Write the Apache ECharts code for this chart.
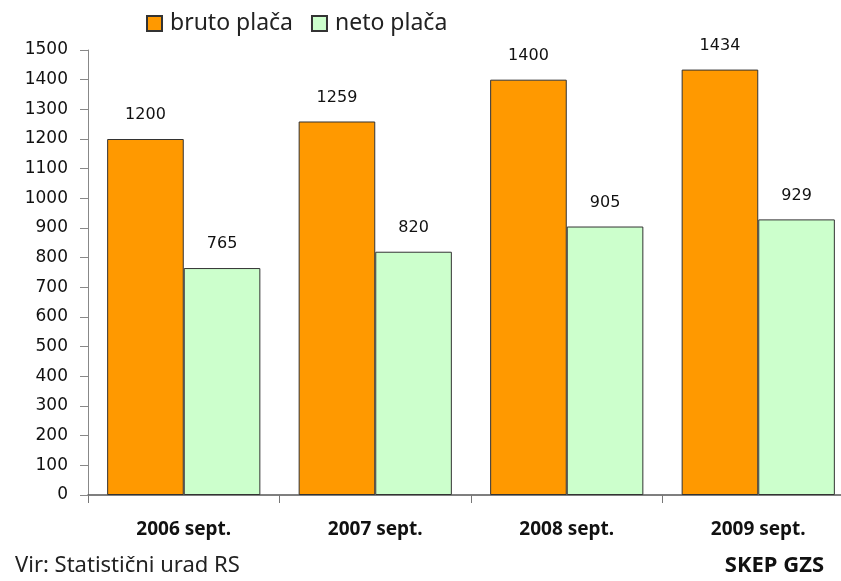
<!DOCTYPE html>
<html>
<head>
<meta charset="utf-8">
<script src="https://cdn.jsdelivr.net/npm/echarts@6/dist/echarts.min.js"></script>
<style>
  html, body { margin: 0; padding: 0; background: #fff; }
  #chart { width: 841px; height: 581px; }
</style>
</head>
<body>
<div id="chart"></div>
<script>
const categories = ['2006 sept.', '2007 sept.', '2008 sept.', '2009 sept.']
const bruto = [1200, 1259, 1400, 1434]
const neto = [765, 820, 905, 929]
const seriesNames = ['bruto plača', 'neto plača']
const sourceText = 'Vir: Statistični urad RS'
const brandText = 'SKEP GZS'

const font = '"Noto Sans", "DejaVu Sans", sans-serif'
const numFont = '"DejaVu Sans", sans-serif'
const chart = echarts.init(document.getElementById('chart'))

chart.setOption({
  animation: false,
  textStyle: { fontFamily: font },
  grid: { left: 88, width: 766, top: 50, bottom: 86, outerBoundsMode: 'none' },
  legend: {
    top: 7,
    left: 141,
    itemWidth: 15,
    itemHeight: 15,
    itemGap: 18,
    icon: 'rect',
    textStyle: { fontSize: 23, color: '#222', fontFamily: font, padding: [0, 0, 0, 3] },
    data: seriesNames
  },
  xAxis: {
    type: 'category',
    data: categories,
    axisLine: { lineStyle: { color: '#555', width: 1.5 } },
    axisTick: { show: true, length: 8, lineStyle: { color: '#777' } },
    axisLabel: { color: '#111', fontSize: 19, fontWeight: 'bold', margin: 25 }
  },
  yAxis: {
    type: 'value',
    min: 0,
    max: 1500,
    interval: 100,
    axisLine: { show: true, lineStyle: { color: '#888' } },
    axisTick: { show: true, length: 8, lineStyle: { color: '#888' } },
    axisLabel: { color: '#111', fontSize: 17, fontFamily: numFont, margin: 20, formatter: (v) => String(v) },
    splitLine: { show: false }
  },
  series: [
    {
      name: seriesNames[0],
      type: 'bar',
      data: bruto,
      barGap: '0%',
      barCategoryGap: '20%',
      itemStyle: { color: '#FF9900', borderColor: '#333', borderWidth: 1 },
      label: { show: true, position: 'top', distance: 16, color: '#111', fontSize: 16, fontFamily: numFont }
    },
    {
      name: seriesNames[1],
      type: 'bar',
      data: neto,
      itemStyle: { color: '#CCFFCC', borderColor: '#333', borderWidth: 1 },
      label: { show: true, position: 'top', distance: 16, color: '#111', fontSize: 16, fontFamily: numFont }
    }
  ],
  graphic: [
    {
      type: 'text',
      left: 15,
      top: 555,
      style: { text: sourceText, fontSize: 22, fill: '#222', fontFamily: font }
    },
    {
      type: 'text',
      right: 17,
      top: 555,
      style: { text: brandText, fontSize: 22, fontWeight: 'bold', fill: '#111', fontFamily: font }
    }
  ]
})
</script>
</body>
</html>
